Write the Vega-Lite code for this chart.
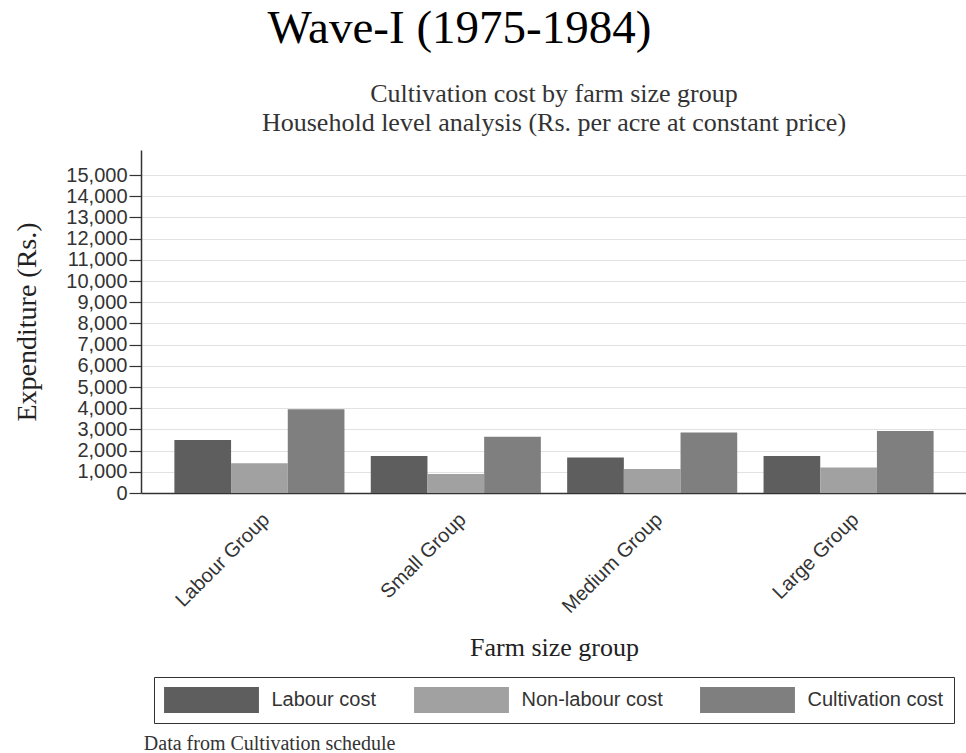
{
  "$schema": "https://vega.github.io/schema/vega-lite/v6.json",
  "background": "white",
  "padding": {"left": 13, "top": 5, "right": 0, "bottom": 0},
  "config": {
    "view": {"stroke": null},
    "font": "Liberation Sans",
    "legend": {"layout": {"bottom": {"anchor": "middle"}}}
  },
  "title": {
    "text": "Wave-I (1975-1984)",
    "font": "Liberation Serif",
    "fontSize": 47,
    "fontWeight": "normal",
    "color": "#000000",
    "anchor": "middle",
    "dx": -31,
    "offset": 28
  },
  "resolve": {"legend": {"color": "independent"}},
  "vconcat": [
    {
      "title": {
        "text": "Data from Cultivation schedule",
        "orient": "bottom",
        "anchor": "start",
        "font": "Liberation Serif",
        "fontSize": 20,
        "fontWeight": "normal",
        "color": "#333333",
        "dx": 130,
        "offset": 10
      },
      "resolve": {"legend": {"color": "independent"}},
      "vconcat": [
        {
          "width": 826,
          "height": 343,
          "title": {
            "text": ["Cultivation cost by farm size group", "Household level analysis (Rs. per acre at constant price)"],
            "font": "Liberation Serif",
            "fontSize": 26,
            "fontWeight": "normal",
            "color": "#333333",
            "lineHeight": 29,
            "anchor": "middle",
            "offset": 14
          },
          "data": {
            "values": [
              {"group": "Labour Group", "series": "Labour cost", "value": 2500},
              {"group": "Labour Group", "series": "Non-labour cost", "value": 1400},
              {"group": "Labour Group", "series": "Cultivation cost", "value": 3950},
              {"group": "Small Group", "series": "Labour cost", "value": 1750},
              {"group": "Small Group", "series": "Non-labour cost", "value": 900},
              {"group": "Small Group", "series": "Cultivation cost", "value": 2650},
              {"group": "Medium Group", "series": "Labour cost", "value": 1680},
              {"group": "Medium Group", "series": "Non-labour cost", "value": 1130},
              {"group": "Medium Group", "series": "Cultivation cost", "value": 2850},
              {"group": "Large Group", "series": "Labour cost", "value": 1750},
              {"group": "Large Group", "series": "Non-labour cost", "value": 1200},
              {"group": "Large Group", "series": "Cultivation cost", "value": 2930}
            ]
          },
          "mark": {"type": "bar"},
          "encoding": {
            "x": {
              "field": "group",
              "type": "nominal",
              "sort": ["Labour Group", "Small Group", "Medium Group", "Large Group"],
              "scale": {"paddingInner": 0.134, "paddingOuter": 0.17},
              "axis": {
                "title": "Farm size group",
                "titleFont": "Liberation Serif",
                "titleFontSize": 26,
                "titleFontWeight": "normal",
                "titleColor": "#222222",
                "titlePadding": 18,
                "labelAngle": -45,
                "labelAlign": "right",
                "labelBaseline": "top",
                "labelPadding": 16,
                "labelFont": "Liberation Sans",
                "labelFontSize": 20,
                "labelColor": "#333333",
                "ticks": false,
                "domainColor": "#333333",
                "domainWidth": 1.5
              }
            },
            "xOffset": {
              "field": "series",
              "type": "nominal",
              "sort": ["Labour cost", "Non-labour cost", "Cultivation cost"],
              "scale": {"paddingInner": 0, "paddingOuter": 0}
            },
            "y": {
              "field": "value",
              "type": "quantitative",
              "scale": {"domain": [0, 16180], "nice": false},
              "axis": {
                "title": "Expenditure (Rs.)",
                "titleFont": "Liberation Serif",
                "titleFontSize": 28,
                "titleFontWeight": "normal",
                "titleColor": "#222222",
                "titlePadding": 24,
                "values": [0, 1000, 2000, 3000, 4000, 5000, 6000, 7000, 8000, 9000, 10000, 11000, 12000, 13000, 14000, 15000],
                "format": ",.0f",
                "labelFont": "Liberation Sans",
                "labelFontSize": 20,
                "labelColor": "#333333",
                "labelPadding": 2,
                "tickSize": 12,
                "tickColor": "#333333",
                "tickWidth": 1.2,
                "domainColor": "#333333",
                "domainWidth": 1.5,
                "gridColor": "#e2e2e2",
                "gridWidth": 1
              }
            },
            "color": {
              "field": "series",
              "type": "nominal",
              "sort": ["Labour cost", "Non-labour cost", "Cultivation cost"],
              "scale": {
                "domain": ["Labour cost", "Non-labour cost", "Cultivation cost"],
                "range": ["#5e5e5e", "#a1a1a1", "#7f7f7f"]
              },
              "legend": {
                "title": null,
                "orient": "bottom",
                "direction": "horizontal",
                "symbolType": "M-3.65,-1H3.65V1H-3.65Z",
                "symbolSize": 676,
                "symbolOffset": 34.5,
                "symbolStrokeWidth": 0,
                "symbolOpacity": 1,
                "labelFont": "Liberation Sans",
                "labelFontSize": 20,
                "labelColor": "#333333",
                "labelOffset": 47,
                "columnPadding": 37,
                "strokeColor": "#333333",
                "padding": 10,
                "offset": 16
              }
            }
          }
        }
      ]
    }
  ]
}
